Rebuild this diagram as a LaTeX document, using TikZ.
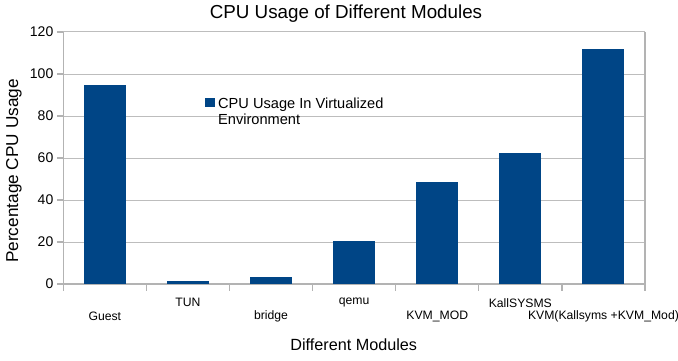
\documentclass[tikz,border=0pt]{standalone}
\usepackage{fontspec}
\setmainfont{Liberation Sans}
\definecolor{barblue}{HTML}{004586}
\definecolor{gridgray}{HTML}{BDBDBD}
\definecolor{axisgray}{HTML}{B3B3B3}
\begin{document}
\begin{tikzpicture}[x=1pt,y=1pt,
  gridline/.style={draw=gridgray,line width=1pt},
  axisline/.style={draw=axisgray,line width=1.2pt},
  barfill/.style={fill=barblue},
  ticklab/.style={font=\fontsize{14}{16}\selectfont,anchor=east,inner sep=0pt},
  catlab/.style={font=\fontsize{12.2}{14}\selectfont,inner sep=0pt},
  axtitle/.style={font=\fontsize{16.2}{19}\selectfont,inner sep=0pt},
  legtext/.style={font=\fontsize{14.6}{16}\selectfont,anchor=base west,inner sep=0pt},
]
\useasboundingbox (0,0) rectangle (678,360);
\fill[white] (0,0) rectangle (678,360);
% grid lines
\foreach \v in {20,40,...,120}
  \draw[gridline] (63.3,{76+2.1*\v}) -- (645,{76+2.1*\v});
% frame / axes
\draw[axisline] (645,76) -- (645,328);
\draw[axisline] (63.3,76) -- (63.3,328);
\draw[axisline] (63.3,76) -- (645,76);
% y ticks and labels
\foreach \v in {0,20,...,120} {
  \draw[axisline] (57,{76+2.1*\v}) -- (63.3,{76+2.1*\v});
  \node[ticklab] (yl\v) at (53.5,{76+2.1*\v}) {\v};
}
% x ticks
\foreach \i in {0,...,7}
  \draw[axisline] ({63.3+83.1*\i},76) -- ({63.3+83.1*\i},69.5);
% bars
\foreach \i/\val in {0/94.6,1/1.4,2/3.5,3/20.5,4/48.6,5/62.4,6/111.9}
  \fill[barfill] ({63.3+83.1*\i+20.55},76) rectangle ++(42,{2.1*\val});
% category labels
\node[catlab] (c0) at ({63.3+83.1*0.5},43.3) {Guest};
\node[catlab] (c1) at ({63.3+83.1*1.5},57.3) {TUN};
\node[catlab] (c2) at ({63.3+83.1*2.5},43.3) {bridge};
\node[catlab] (c3) at ({63.3+83.1*3.5},57.3) {qemu};
\node[catlab] (c4) at ({63.3+83.1*4.5},43.3) {KVM\_MOD};
\node[catlab] (c5) at ({63.3+83.1*5.5},57.3) {KallSYSMS};
\node[catlab] (c6) at ({63.3+83.1*6.5},43.3) {KVM(Kallsyms +KVM\_Mod)};
% titles
\node[font=\fontsize{18.8}{22}\selectfont,inner sep=0pt] (title) at (346,346) {CPU Usage of Different Modules};
\node[axtitle] (xtitle) at (353.7,15) {Different Modules};
\node[axtitle,font=\fontsize{17.2}{20}\selectfont,rotate=90] (ytitle) at (14,189) {Percentage CPU Usage};
% legend
\fill[barfill] (205,252.7) rectangle (214.5,262);
\node[legtext] (legendA) at (218,251.7) {CPU Usage In Virtualized};
\node[legtext] (legendB) at (218,235.7) {Environment};
\end{tikzpicture}
\end{document}
